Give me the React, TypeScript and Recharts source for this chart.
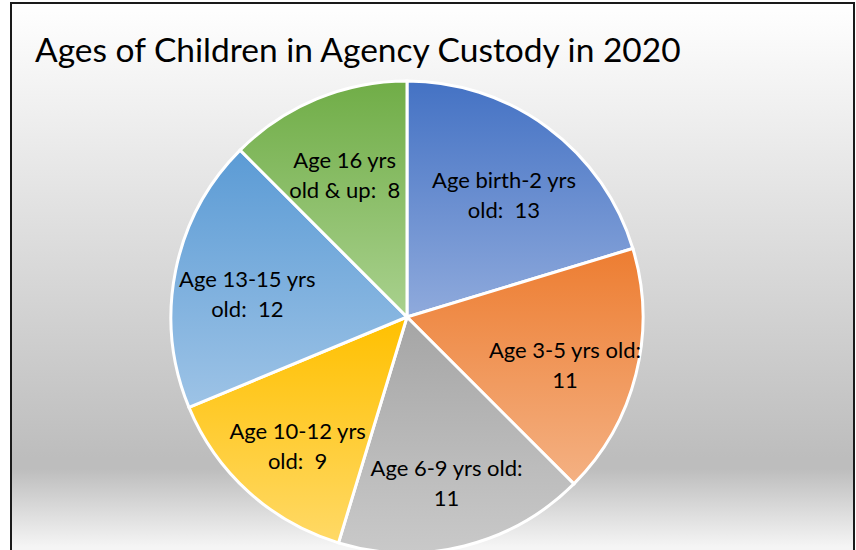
import { Cell, Pie, PieChart } from "recharts";

// category names; "\n" marks where the label wraps before the value
const categories = [
  "Age birth-2 yrs\nold",
  "Age 3-5 yrs old",
  "Age 6-9 yrs old",
  "Age 10-12 yrs\nold",
  "Age 13-15 yrs\nold",
  "Age 16 yrs\nold & up",
];
const counts = [13, 11, 11, 9, 12, 8];

// top / bottom colours of each slice's vertical gradient
const topColors = ["#4472C4", "#ED7D31", "#A5A5A5", "#FFC000", "#5B9BD5", "#70AD47"];
const bottomColors = ["#8FAADC", "#F4B183", "#C9C9C9", "#FFD966", "#9DC3E6", "#A9D18E"];

const title = "Ages of Children in Agency Custody in 2020";

const data = categories.map((name, i) => ({ name, value: counts[i] }));

const W = 856;
const H = 550;
const RAD = Math.PI / 180;
const FONT = "Lato, 'Open Sans', sans-serif";

function renderLabel(props: any) {
  const { cx, cy, midAngle, outerRadius, name, value } = props;
  const r = outerRadius * 0.69;
  const x = cx + r * Math.cos(-midAngle * RAD);
  const y = cy + r * Math.sin(-midAngle * RAD) + 8;
  const parts = String(name).split("\n");
  const lines =
    parts.length > 1
      ? [parts[0], `${parts[1]}:  ${value}`]
      : [`${parts[0]}:`, `${value}`];
  return (
    <text
      x={x}
      y={y}
      textAnchor="middle"
      fill="#000"
      fontFamily={FONT}
      fontSize={22}
      style={{ whiteSpace: "pre" }}
    >
      {lines.map((line, i) => (
        <tspan key={i} x={x} y={y + (i === 0 ? -15 : 15)} dominantBaseline="central">
          {line}
        </tspan>
      ))}
    </text>
  );
}

export default function App() {
  return (
    <div style={{ position: "fixed", left: 0, top: 0, width: W, height: H, overflow: "hidden", background: "#fff" }}>
      {/* chart area frame */}
      <div
        style={{
          position: "absolute",
          left: 10,
          top: 2,
          width: 841,
          height: 560,
          borderTop: "2px solid #1a1a1a",
          borderLeft: "2px solid #1a1a1a",
          borderRight: "2px solid #1a1a1a",
          background:
            "linear-gradient(to bottom, #ffffff 0%, #bdbdbd 81%, #bdbdbd 83%, #f5f5f5 97%)",
        }}
      />
      <svg style={{ position: "absolute", left: 0, top: 0 }} width={W} height={90}>
        <text x={35} y={62} fontFamily={FONT} fontSize={33.5} fill="#000">
          {title}
        </text>
      </svg>
      <div style={{ position: "absolute", left: 0, top: 0 }}>
        <PieChart width={W} height={H} margin={{ top: 0, right: 0, bottom: 0, left: 0 }}>
          <defs>
            {topColors.map((c, i) => (
              <linearGradient key={i} id={`slice-${i}`} x1="0" y1="0" x2="0" y2="1">
                <stop offset="0%" stopColor={c} />
                <stop offset="100%" stopColor={bottomColors[i]} />
              </linearGradient>
            ))}
          </defs>
          <Pie
            data={data}
            dataKey="value"
            nameKey="name"
            cx={407}
            cy={317}
            outerRadius={236}
            startAngle={90}
            endAngle={-270}
            stroke="#fff"
            strokeWidth={3}
            label={renderLabel}
            labelLine={false}
            isAnimationActive={false}
          >
            {data.map((_, i) => (
              <Cell key={i} fill={`url(#slice-${i})`} />
            ))}
          </Pie>
        </PieChart>
      </div>
    </div>
  );
}
